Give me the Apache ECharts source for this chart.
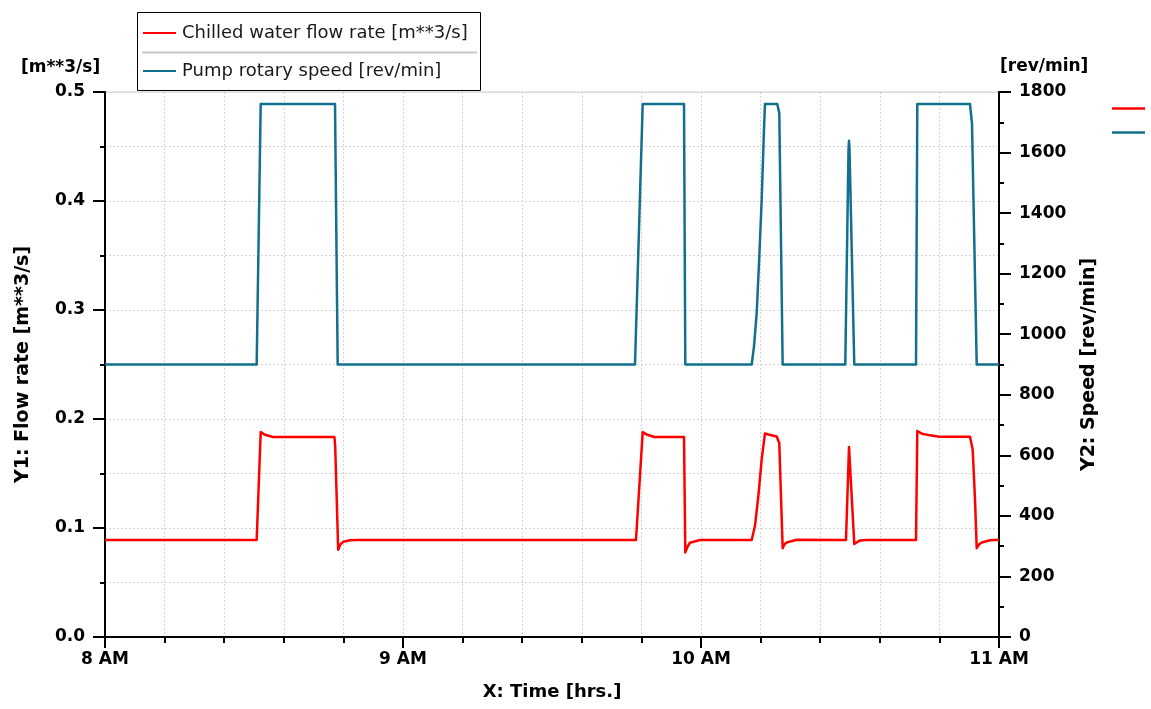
<!DOCTYPE html>
<html>
<head>
<meta charset="utf-8">
<script src="https://cdn.jsdelivr.net/npm/echarts@6/dist/echarts.min.js"></script>
<style>
  html, body { margin: 0; padding: 0; background: #ffffff; }
  #chart { width: 1151px; height: 709px; }
</style>
</head>
<body>
<div id="chart"></div>
<script>
// Time axis runs in minutes after 8 AM
const xTicks = [0, 60, 120, 180];
const xTickLabels = ['8 AM', '9 AM', '10 AM', '11 AM'];

// Chilled water flow rate [m**3/s] — [minute, value]
const flowRate = [
  [0, 0.089], [30.54, 0.089], [31.35, 0.188], [32.2, 0.1855], [33.8, 0.1835],
  [46.2, 0.1835], [46.35, 0.175], [46.95, 0.080], [47.4, 0.085], [47.98, 0.0873], [49.33, 0.0887], [51, 0.089],
  [106.91, 0.089], [108.26, 0.188], [109.2, 0.1855], [110.6, 0.1835], [116.58, 0.1835],
  [116.84, 0.0776], [117.3, 0.083], [117.78, 0.0865], [119.8, 0.089],
  [130.21, 0.089], [130.87, 0.102], [131.54, 0.129], [132.22, 0.163], [132.88, 0.1868],
  [133.55, 0.1858], [135.24, 0.184], [135.76, 0.178], [136.44, 0.0815], [136.8, 0.085],
  [137.25, 0.0867], [139.27, 0.0892],
  [149.19, 0.089], [149.8, 0.1743], [150.86, 0.0854], [152.01, 0.0886], [153.36, 0.089],
  [163.29, 0.089], [163.55, 0.189], [164.5, 0.1865], [166.11, 0.185], [168, 0.1838],
  [174.16, 0.1838], [174.7, 0.172], [175.17, 0.126], [175.51, 0.0815], [176.0, 0.085],
  [176.52, 0.0867], [178.19, 0.0888], [180, 0.0892]
];

// Pump rotary speed [rev/min] — [minute, value]
const pumpSpeed = [
  [0, 900], [30.54, 900], [31.35, 1760], [46.31, 1760], [46.85, 900],
  [106.71, 900], [108.26, 1760], [116.58, 1760], [116.84, 900],
  [130.21, 900], [130.67, 960], [131.21, 1070], [131.68, 1235], [132.22, 1444],
  [132.68, 1675], [132.88, 1760], [135.36, 1760], [135.76, 1731], [136.44, 900],
  [149.05, 900], [149.7, 1610], [149.8, 1639], [149.9, 1610], [150.86, 900],
  [163.29, 900], [163.55, 1760], [174.16, 1760], [174.56, 1696], [175.51, 900], [180, 900]
];

const seriesNames = ['Chilled water flow rate [m**3/s]', 'Pump rotary speed [rev/min]'];
const seriesColors = ['#ff0000', '#12708f'];

const FONT = 'DejaVu Sans';
const gridLine = { show: true, lineStyle: { color: '#d4d4d4', width: 1, type: [2, 2] } };

const chart = echarts.init(document.getElementById('chart'), null, { renderer: 'canvas' });

chart.setOption({
  animation: false,
  backgroundColor: '#ffffff',
  grid: {
    left: 105, right: 152, top: 92, bottom: 72,
    show: true, borderColor: '#cccccc', borderWidth: 1, backgroundColor: 'transparent'
  },
  legend: {
    orient: 'vertical',
    left: 143, top: 23,
    padding: 0,
    z: 20,
    itemWidth: 33, itemHeight: 2, itemGap: 18,
    icon: 'rect',
    textStyle: { fontFamily: FONT, fontSize: 18, color: '#1a1a1a', padding: [0, 0, 0, 1], lineHeight: 20 },
    data: seriesNames
  },
  xAxis: {
    type: 'value',
    min: 0, max: 180, interval: 60,
    axisLine: { show: true, onZero: false, lineStyle: { color: '#000', width: 2 } },
    axisTick: { show: true, length: 11, lineStyle: { color: '#000', width: 2 } },
    minorTick: { show: true, splitNumber: 5, length: 6, lineStyle: { color: '#000', width: 2 } },
    splitLine: gridLine,
    minorSplitLine: gridLine,
    axisLabel: {
      margin: 14,
      fontFamily: FONT, fontWeight: 'bold', fontSize: 17, color: '#000',
      formatter: v => { const i = xTicks.indexOf(v); return i >= 0 ? xTickLabels[i] : ''; }
    },
    name: 'X: Time [hrs.]',
    nameLocation: 'middle', nameGap: 46,
    nameTextStyle: { fontFamily: FONT, fontWeight: 'bold', fontSize: 18, color: '#000' }
  },
  yAxis: [
    {
      type: 'value', position: 'left',
      min: 0, max: 0.5, interval: 0.1,
      axisLine: { show: true, onZero: false, lineStyle: { color: '#000', width: 2 } },
      axisTick: { show: true, length: 12, lineStyle: { color: '#000', width: 2 } },
      minorTick: { show: true, splitNumber: 2, length: 5, lineStyle: { color: '#000', width: 2 } },
      splitLine: gridLine,
      minorSplitLine: gridLine,
      axisLabel: {
        margin: 20,
        fontFamily: FONT, fontWeight: 'bold', fontSize: 17, color: '#000',
        formatter: v => v.toFixed(1)
      },
      name: 'Y1: Flow rate [m**3/s]',
      nameLocation: 'middle', nameGap: 72, nameRotate: 90,
      nameTextStyle: { fontFamily: FONT, fontWeight: 'bold', fontSize: 19, color: '#000' }
    },
    {
      type: 'value', position: 'right',
      min: 0, max: 1800, interval: 200,
      axisLine: { show: true, onZero: false, lineStyle: { color: '#000', width: 2 } },
      axisTick: { show: true, length: 12, lineStyle: { color: '#000', width: 2 } },
      minorTick: { show: true, splitNumber: 2, length: 5, lineStyle: { color: '#000', width: 2 } },
      splitLine: { show: false },
      axisLabel: {
        margin: 20,
        fontFamily: FONT, fontWeight: 'bold', fontSize: 17, color: '#000',
        formatter: v => String(v)
      },
      name: 'Y2: Speed [rev/min]',
      nameLocation: 'middle', nameGap: 81, nameRotate: 90,
      nameTextStyle: { fontFamily: FONT, fontWeight: 'bold', fontSize: 19, color: '#000' }
    }
  ],
  graphic: [
    // legend frame and row separator
    { type: 'rect', silent: true,
      shape: { x: 137.5, y: 12.5, width: 343, height: 78 },
      style: { fill: 'none', stroke: '#000', lineWidth: 1 } },
    { type: 'line', silent: true,
      shape: { x1: 142, y1: 52.5, x2: 477, y2: 52.5 },
      style: { stroke: '#c8c8c8', lineWidth: 2 } },
    // axis unit captions
    { type: 'text', left: 21, top: 59, silent: true,
      style: { text: '[m**3/s]', fontFamily: FONT, fontWeight: 'bold', fontSize: 17, fill: '#000' } },
    { type: 'text', left: 1000, top: 58, silent: true,
      style: { text: '[rev/min]', fontFamily: FONT, fontWeight: 'bold', fontSize: 17, fill: '#000' } },
    // side key swatches
    { type: 'line', silent: true,
      shape: { x1: 1112, y1: 108.5, x2: 1145, y2: 108.5 },
      style: { stroke: seriesColors[0], lineWidth: 2.5 } },
    { type: 'line', silent: true,
      shape: { x1: 1112, y1: 132.5, x2: 1145, y2: 132.5 },
      style: { stroke: seriesColors[1], lineWidth: 2.5 } }
  ],
  series: [
    {
      name: seriesNames[0], type: 'line', yAxisIndex: 0,
      data: flowRate, showSymbol: false, symbol: 'none',
      lineStyle: { color: seriesColors[0], width: 2.5, join: 'round' },
      itemStyle: { color: seriesColors[0] }, z: 3
    },
    {
      name: seriesNames[1], type: 'line', yAxisIndex: 1,
      data: pumpSpeed, showSymbol: false, symbol: 'none',
      lineStyle: { color: seriesColors[1], width: 2.5, join: 'round' },
      itemStyle: { color: seriesColors[1] }, z: 3
    }
  ]
});
</script>
</body>
</html>
